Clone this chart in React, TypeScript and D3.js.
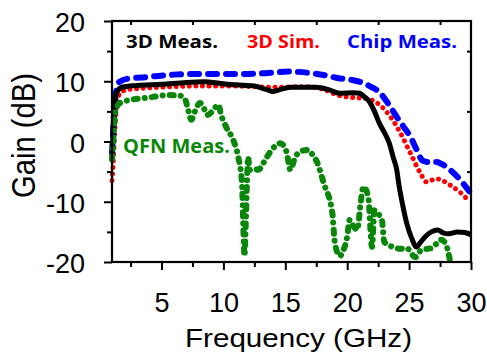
import { useEffect, useRef } from "react";
import * as d3 from "d3";

const W = 487;
const H = 354;
const X0 = 112;
const X1 = 471;
const Y0 = 21;
const Y1 = 262;

// axis ticks
const xMajor = [5, 10, 15, 20, 25, 30];
const xMinor = [2.5, 7.5, 12.5, 17.5, 22.5, 27.5];
const yMajor = [-20, -10, 0, 10, 20];
const yMinor = [-15, -5, 5, 15];

// 3D Meas. (black, solid)
const meas3dFreq = [1.0, 1.1, 1.2, 1.4, 1.8, 3, 5, 7, 8.5, 9.5, 11, 12.5, 13.5, 14, 14.7, 15.5, 17.5, 18.5, 19.4, 20.5, 21.0, 21.4, 21.8, 22.2, 22.6, 23.0, 23.4, 23.7, 24.0, 24.2, 24.4, 24.8, 25.2, 25.6, 25.9, 26.3, 26.8, 27.3, 27.8, 28.2, 28.9, 29.5, 30];
const meas3dGain = [-3, 3, 6.5, 8.2, 9.0, 9.3, 9.5, 9.8, 9.9, 9.7, 9.4, 9.2, 8.6, 8.3, 8.7, 9.0, 9.0, 8.6, 8.0, 8.1, 8.0, 7.4, 6.6, 5.0, 3.0, 1.5, -0.3, -2.5, -4.7, -7.5, -9.7, -13.5, -16, -17.5, -16.8, -15.8, -15, -14.7, -15.2, -15.3, -15, -15.1, -15.5];

// 3D Sim. (red, dotted)
const sim3dFreq = [1.0, 1.1, 1.25, 1.4, 1.65, 2.2, 4, 8, 11, 14, 16.7, 18, 19.4, 20.5, 21.6, 22.6, 23.5, 24.3, 25.1, 25.9, 26.4, 27.2, 28.3, 29.1, 29.9];
const sim3dGain = [-6.5, -3.5, 2.4, 6.4, 8.0, 8.6, 8.9, 9.2, 9.2, 9.0, 9.1, 8.7, 7.6, 7.3, 7.1, 6.1, 4.1, 1.4, -1.9, -5.2, -6.7, -6.2, -7.2, -8.4, -10];

// Chip Meas. (blue, dashed)
const chipFreq = [1.0, 1.1, 1.2, 1.35, 1.6, 2.2, 3.8, 6, 8, 11.3, 13, 15.3, 16.9, 18.2, 19.3, 20.4, 21.3, 22.0, 22.6, 23.3, 24.0, 24.5, 25.1, 25.6, 26.1, 26.6, 27.2, 27.7, 28.3, 29.1, 29.9];
const chipGain = [-2, 2, 6, 8.5, 9.9, 10.4, 10.7, 11.1, 11.2, 11.2, 11.3, 11.6, 11.4, 11.0, 10.5, 10.2, 9.7, 9.0, 8.2, 6.3, 4.1, 2.6, 0.8, -1.3, -3.2, -3.4, -3.4, -3.8, -4.7, -6.3, -8.4];

// QFN Meas. (green, dash-dot)
const qfnFreq = [1.0, 1.1, 1.2, 1.3, 1.65, 2.5, 4, 5.5, 6.5, 6.9, 7.1, 7.4, 7.7, 8.1, 8.5, 8.7, 9.1, 9.6, 9.8, 10.2, 10.8, 11.2, 11.5, 11.6, 11.7, 11.8, 11.9, 12.0, 12.1, 12.5, 12.8, 13.5, 13.9, 14.6, 15.1, 15.4, 15.8, 16.3, 16.8, 17.2, 17.6, 18.1, 18.8, 19.0, 19.4, 19.7, 20.0, 20.2, 20.5, 20.8, 21.1, 21.3, 21.7, 22.0, 22.2, 22.5, 22.8, 23.0, 23.7, 24.3, 24.8, 25.5, 26.0, 26.8, 27.2, 27.6, 28.0, 28.3];
const qfnGain = [-3, 0, 3.5, 5.2, 6.4, 6.9, 7.3, 7.7, 7.6, 7.0, 5.7, 3.6, 5.0, 6.4, 5.2, 4.4, 5.0, 6.1, 4.5, 2.5, 0.2, -2.6, -6.9, -13.5, -19, -14, -7, -2.6, -4.7, -4.5, -4.7, -2.6, -1.4, -0.3, -1.7, -4.7, -2.6, -1.6, -1.4, -2.2, -3.6, -6.9, -11.9, -16.8, -19, -18, -15.8, -13, -14, -14.7, -10, -7.5, -9.2, -17.5, -11.4, -12, -13, -16.7, -17.5, -17.8, -17.7, -19.2, -18, -17.7, -17, -16.3, -17.2, -19.7];

const SERIES = [
  { freq: sim3dFreq, gain: sim3dGain, color: "#ff0000", width: 5, dash: "0.1 6.5" },
  { freq: chipFreq, gain: chipGain, color: "#0000ff", width: 6, dash: "9 9" },
  { freq: meas3dFreq, gain: meas3dGain, color: "#000000", width: 5, dash: null },
  { freq: qfnFreq, gain: qfnGain, color: "#0a870a", width: 6, dash: "4 7 0.1 7" },
];

const LEGEND = [
  { text: "3D Meas.", x: 126, y: 48, color: "#000000", len: 92, size: 18.5 },
  { text: "3D Sim.", x: 247, y: 48, color: "#ff0000", len: 73, size: 18.5 },
  { text: "Chip Meas.", x: 347, y: 48, color: "#0000ff", len: 110, size: 18.5 },
  { text: "QFN Meas.", x: 123, y: 153, color: "#0a870a", len: 107, size: 20 },
];

const App = () => {
  const svgRef = useRef(null);

  useEffect(() => {
    const svg = d3.select(svgRef.current);
    svg.selectAll("*").remove();

    const xScale = d3.scaleLinear().domain([1, 30]).range([X0, X1]);
    const yScale = d3.scaleLinear().domain([-20, 20]).range([Y1, Y0]);

    const font = "'Liberation Sans', Arial, sans-serif";

    // curves
    const path = d3
      .line<[number, number]>()
      .x((d) => xScale(d[0]))
      .y((d) => yScale(d[1]))
      .curve(d3.curveMonotoneX);

    SERIES.forEach((s) => {
      const pts = s.freq.map((f, i) => [f, s.gain[i]] as [number, number]);
      svg
        .append("path")
        .attr("d", path(pts))
        .attr("fill", "none")
        .attr("stroke", s.color)
        .attr("stroke-width", s.width)
        .attr("stroke-linecap", s.dash ? "round" : "butt")
        .attr("stroke-linejoin", "round")
        .attr("stroke-dasharray", s.dash);
    });

    // frame
    svg
      .append("rect")
      .attr("x", X0)
      .attr("y", Y0)
      .attr("width", X1 - X0)
      .attr("height", Y1 - Y0)
      .attr("fill", "none")
      .attr("stroke", "#000")
      .attr("stroke-width", 2.2);

    const styleAxis = (g) => {
      g.select(".domain").remove();
      g.selectAll("line").attr("stroke", "#000").attr("stroke-width", 2);
    };

    // bottom axis
    svg
      .append("g")
      .attr("transform", `translate(0,${Y1})`)
      .call(d3.axisBottom(xScale).tickValues(xMajor).tickSize(8).tickFormat((d) => String(d)))
      .call(styleAxis)
      .call((g) =>
        g
          .selectAll("text")
          .attr("y", 50)
          .attr("dy", 0)
          .attr("font-family", font)
          .attr("font-size", 27)
          .attr("fill", "#000")
      );
    svg
      .append("g")
      .attr("transform", `translate(0,${Y1})`)
      .call(d3.axisBottom(xScale).tickValues(xMinor).tickSize(5).tickFormat(() => ""))
      .call(styleAxis);

    // top axis, inward
    svg
      .append("g")
      .attr("transform", `translate(0,${Y0})`)
      .call(d3.axisTop(xScale).tickValues(xMinor).tickSize(-4).tickFormat(() => ""))
      .call(styleAxis);

    // left axis
    svg
      .append("g")
      .attr("transform", `translate(${X0},0)`)
      .call(d3.axisLeft(yScale).tickValues(yMajor).tickSize(8).tickFormat((d) => String(d)))
      .call(styleAxis)
      .call((g) =>
        g
          .selectAll("text")
          .attr("x", -27)
          .attr("dy", "0.39em")
          .attr("font-family", font)
          .attr("font-size", 27)
          .attr("fill", "#000")
      );
    svg
      .append("g")
      .attr("transform", `translate(${X0},0)`)
      .call(d3.axisLeft(yScale).tickValues(yMinor).tickSize(5).tickFormat(() => ""))
      .call(styleAxis);

    // right axis, inward
    svg
      .append("g")
      .attr("transform", `translate(${X1},0)`)
      .call(d3.axisRight(yScale).tickValues(yMinor).tickSize(-4).tickFormat(() => ""))
      .call(styleAxis);

    // axis titles
    svg
      .append("text")
      .attr("x", 298.5)
      .attr("y", 347)
      .attr("text-anchor", "middle")
      .attr("font-family", font)
      .attr("font-size", 26)
      .attr("textLength", 227)
      .attr("lengthAdjust", "spacingAndGlyphs")
      .text("Frequency (GHz)");

    svg
      .append("text")
      .attr("transform", "translate(35,135.5) scale(1.2,1) rotate(-90)")
      .attr("text-anchor", "middle")
      .attr("font-family", font)
      .attr("font-size", 27)
      .attr("textLength", 125)
      .attr("lengthAdjust", "spacingAndGlyphs")
      .text("Gain (dB)");

    // legend labels
    LEGEND.forEach((l) => {
      svg
        .append("text")
        .attr("x", l.x)
        .attr("y", l.y)
        .attr("fill", l.color)
        .attr("font-family", "'Open Sans', sans-serif")
        .attr("font-weight", 700)
        .attr("font-size", l.size)
        .attr("textLength", l.len)
        .attr("lengthAdjust", "spacingAndGlyphs")
        .text(l.text);
    });
  }, []);

  return (
    <svg
      ref={svgRef}
      width={W}
      height={H}
      style={{ position: "absolute", left: 0, top: 0, background: "#fff" }}
    ></svg>
  );
};

export default App;
